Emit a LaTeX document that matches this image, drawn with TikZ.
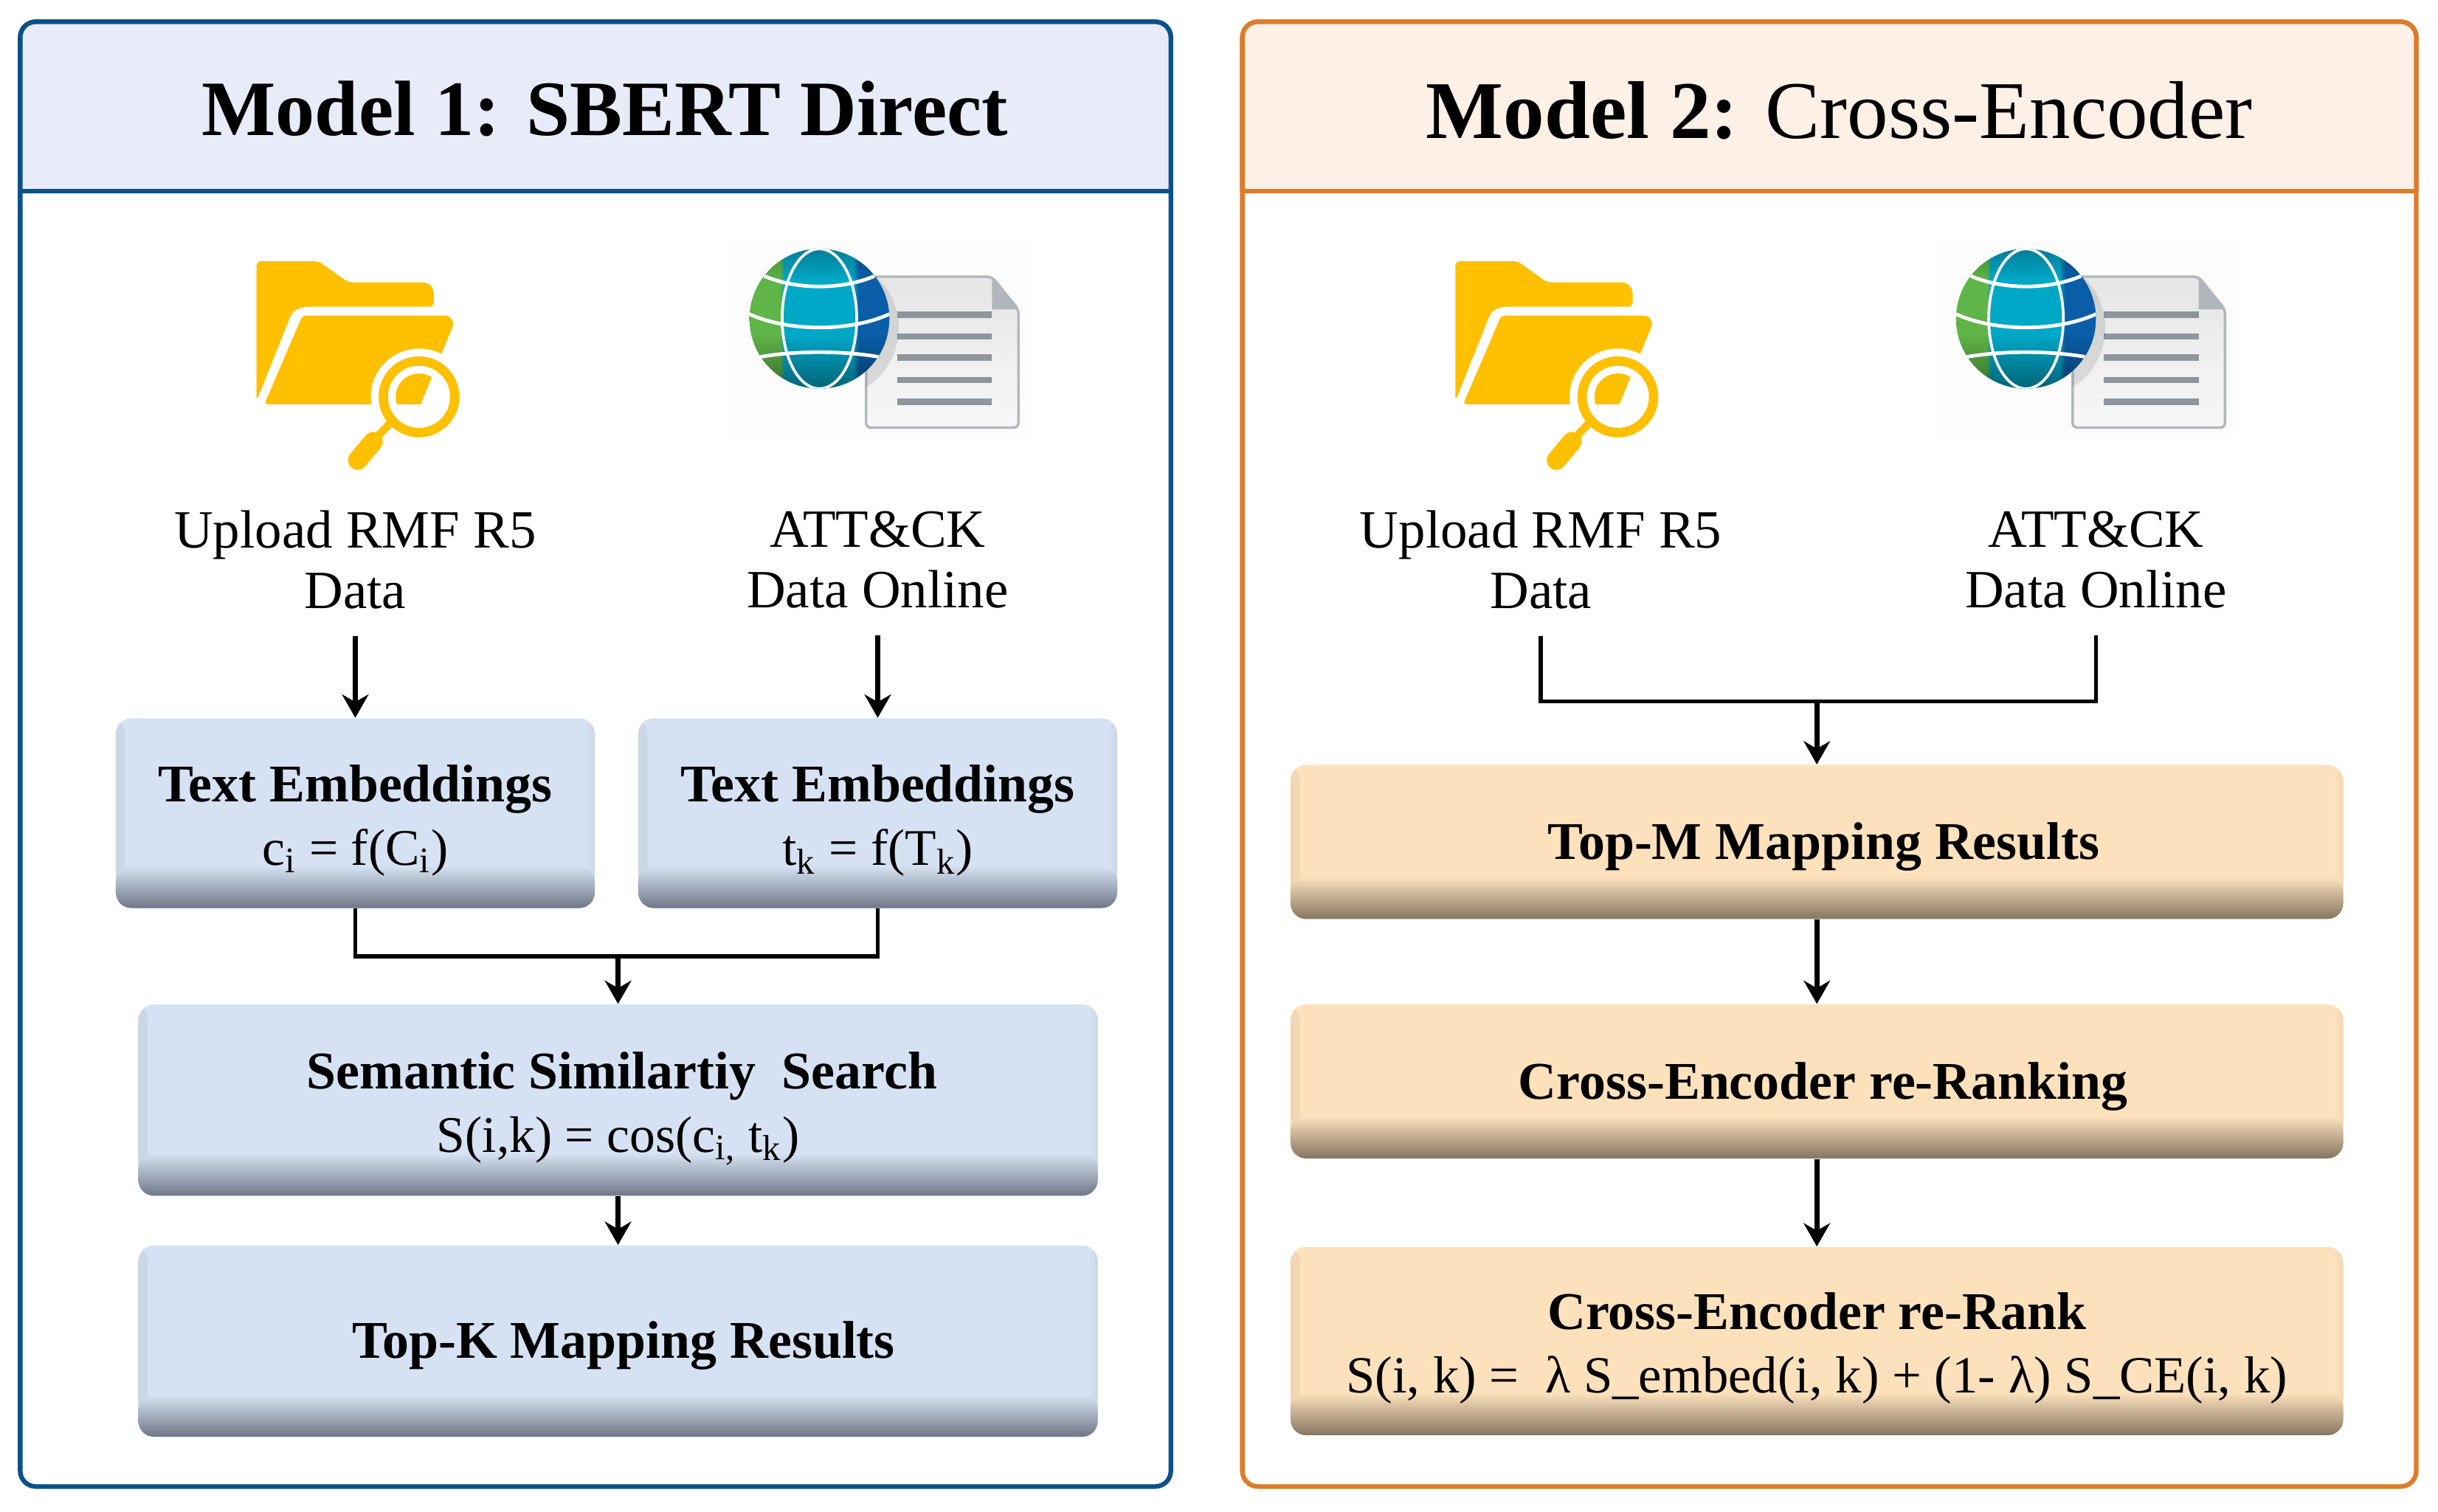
\documentclass[tikz,border=0pt]{standalone}
\usepackage{fontspec}
\usepackage{xcolor}
\usepackage{tikz}
\usetikzlibrary{arrows.meta,calc,fadings}
\setmainfont{Liberation Serif}

\definecolor{navyline}{HTML}{0B5189}
\definecolor{orangeline}{HTML}{DD7C2A}
\definecolor{headblue}{HTML}{E8ECF8}
\definecolor{headorange}{HTML}{FDF0E6}
\definecolor{faceblue}{HTML}{D6E2F3}
\definecolor{bandblue}{HTML}{6E7786}
\definecolor{sideblue}{HTML}{CBD6E6}
\definecolor{faceorange}{HTML}{FCE1BC}
\definecolor{bandorange}{HTML}{857561}
\definecolor{sideorange}{HTML}{F1D7B3}
\definecolor{foldergold}{HTML}{FFC000}
\definecolor{docgrey}{HTML}{B0B6BC}
\definecolor{docline}{HTML}{8E959C}
\definecolor{globegreen}{HTML}{5FB548}
\definecolor{globeteal}{HTML}{00A8C8}
\definecolor{globeblue}{HTML}{0A5EA8}

\pgfdeclarehorizontalshading{globeshade}{100bp}{color(0bp)=(globegreen); color(36bp)=(globegreen);
    color(37.5bp)=(globeteal); color(62bp)=(globeteal); color(64bp)=(globeblue); color(100bp)=(globeblue)}

\newcommand{\formsize}{\fontsize{18.8}{23.2}\selectfont}

\tikzset{
    softbox/.style n args={3}{
        rectangle, rounded corners=0.2cm, fill=#1, inner sep=0pt, align=center,
        font=\fontsize{19.4}{23.2}\selectfont,
        execute at begin node={\rule{0pt}{17pt}},
        path picture={
            \shade[left color=#3, right color=#1]
                (path picture bounding box.south west) rectangle
                ($(path picture bounding box.north west)+(0.12,0)$);
            \shade[left color=#1, right color=#3]
                ($(path picture bounding box.south east)+(-0.12,0)$) rectangle
                (path picture bounding box.north east);
            \shade[top color=#1, bottom color=#2]
                (path picture bounding box.south west) rectangle
                ($(path picture bounding box.south east)+(0,0.54)$);
        }
    },
    twolines/.style={text height=43pt, text depth=5pt},
    foldericon/.pic={
        \fill[foldergold, rounded corners=0.06cm] (0,0) -- (0.80,0) -- (1.18,-0.272) -- (2.2,-0.272)
            -- (2.28,-0.36) -- (2.28,-0.586) -- (0.59,-0.586) -- (0.46,-0.65) -- (0,-1.8) -- cycle;
        \fill[foldergold, rounded corners=0.04cm] (0.59,-0.70) -- (2.48,-0.70) -- (2.54,-0.8)
            -- (2.11,-1.84) -- (0.1,-1.84) -- cycle;
        \fill[white] (2.09,-1.744) circle (0.62);
        \begin{scope}
            \clip (2.09,-1.744) circle (0.30);
            \fill[foldergold] (0.59,-0.70) -- (2.48,-0.70) -- (2.54,-0.8)
                -- (2.11,-1.84) -- (0.1,-1.84) -- cycle;
        \end{scope}
        \draw[foldergold, line width=0.12cm] (2.09,-1.744) circle (0.46);
        \draw[foldergold, line width=0.1cm] (1.75,-2.05) -- (1.55,-2.26);
        \draw[foldergold, line width=0.25cm, line cap=round] (1.5,-2.32) -- (1.3,-2.56);
    },
    webicon/.pic={
        \fill[black!1] (-1.14,1.0) rectangle (2.66,-1.5);
        % page behind the globe
        \draw[docgrey, line width=0.9pt, top color=black!10, bottom color=black!3, rounded corners=0.06cm]
            (0.6,0.54) -- (2.22,0.54) -- (2.56,0.12) -- (2.56,-1.4) -- (0.6,-1.4) -- cycle;
        \fill[docgrey] (2.22,0.54) -- (2.56,0.12) -- (2.22,0.12) -- cycle;
        \foreach \liney in {0.05,-0.23,-0.50,-0.79,-1.07}
            \draw[docline, line width=0.08cm] (1.0,\liney) -- (2.22,\liney);
        \begin{scope}
            \clip (0.6,0.54) rectangle (2.56,-1.4);
            \fill[black, opacity=0.1] (0.12,-0.12) circle (0.9);
        \end{scope}
        % globe
        \shade[shading=globeshade] (0,0) circle (0.9);
        \begin{scope}
            \clip (0,0) circle (0.9);
            \fill[black, path fading=north, fill opacity=0.4] (-0.9,-0.9) rectangle (0.9,-0.2);
            \fill[black, path fading=south, fill opacity=0.25] (-0.9,0.9) rectangle (0.9,0.5);
            \draw[white, line width=1pt] (0,0) ellipse (0.48 and 0.9);
            \draw[white, line width=1.3pt] (-0.71,0.55) .. controls (-0.3,0.37) and (0.3,0.37) .. (0.71,0.55);
            \draw[white, line width=1.3pt] (-0.9,0.06) .. controls (-0.4,-0.17) and (0.4,-0.17) .. (0.9,0.06);
            \draw[white, line width=1.3pt] (-0.76,-0.49) .. controls (-0.3,-0.41) and (0.3,-0.41) .. (0.76,-0.49);
        \end{scope}
    }
}

\begin{document}
\begin{tikzpicture}[
        panelA/.style={draw=navyline, line width=1.7pt, rectangle, rounded corners=0.2cm, minimum width=14.8cm, minimum height=18.84cm},
        panelB/.style={draw=orangeline, line width=1.7pt, rectangle, rounded corners=0.2cm, minimum width=15.1cm, minimum height=18.84cm},
        heading/.style={font=\fontsize{28.7}{32}\selectfont, inner sep=0pt},
        source/.style={align=center, inner sep=0pt, font=\fontsize{19.7}{22.2}\selectfont},
        embedbox/.style={softbox={faceblue}{bandblue}{sideblue}, minimum width=6.16cm, minimum height=2.44cm},
        simbox/.style={softbox={faceblue}{bandblue}{sideblue}, minimum width=12.34cm, minimum height=2.46cm},
        shortbox/.style={softbox={faceorange}{bandorange}{sideorange}, minimum width=13.54cm, minimum height=1.98cm},
        tallbox/.style={softbox={faceorange}{bandorange}{sideorange}, minimum width=13.54cm, minimum height=2.42cm},
        link/.style={line width=1.5pt},
        arrow/.style={-{Stealth[length=0.3cm,width=0.34cm]}, line width=1.9pt}
    ]
    \useasboundingbox (0,0) rectangle (31.36,-19.44);

    % Model 1 frame and heading
    \node[panelA] (panelone) at (7.66,-9.7) {};
    \fill[headblue, rounded corners=0.2cm] (0.26,-2.46) -- (0.26,-0.28) -- (15.06,-0.28) -- (15.06,-2.46);
    \draw[navyline, line width=1.7pt, rounded corners=0.2cm] (0.26,-2.46) -- (0.26,-0.28) -- (15.06,-0.28) -- (15.06,-2.46);
    \draw[navyline, line width=1.7pt] (0.26,-2.46) -- (15.06,-2.46);
    \node[heading] (titleone) at (7.78,-1.4) {\textbf{Model 1: SBERT Direct}};

    % Model 2 frame and heading
    \node[panelB] (paneltwo) at (23.53,-9.7) {};
    \fill[headorange, rounded corners=0.2cm] (15.98,-2.46) -- (15.98,-0.28) -- (31.08,-0.28) -- (31.08,-2.46);
    \draw[orangeline, line width=1.7pt, rounded corners=0.2cm] (15.98,-2.46) -- (15.98,-0.28) -- (31.08,-0.28) -- (31.08,-2.46);
    \draw[orangeline, line width=1.7pt] (15.98,-2.46) -- (31.08,-2.46);
    \node[heading, font=\fontsize{30}{32}\selectfont] (titletwo) at (23.66,-1.42) {\textbf{Model 2:} Cross-Encoder};

    % Icons
    \pic (folderA) at (3.30,-3.36) {foldericon};
    \pic (folderB) at (18.72,-3.36) {foldericon};
    \pic (webA) at (10.54,-4.10) {webicon};
    \pic (webB) at (26.06,-4.10) {webicon};

    % Model 1 blocks
    \node[source] (uploadA) at (4.57,-7.2) {Upload RMF R5\\Data};
    \node[source] (attackA) at (11.29,-7.2) {ATT\&CK\\Data Online};
    \node[embedbox, twolines] (embedA) at (4.57,-10.46) {\textbf{Text Embeddings}\\\formsize c\textsubscript{i} = f(C\textsubscript{i})};
    \node[embedbox, twolines] (embedB) at (11.29,-10.46) {\textbf{Text Embeddings}\\\formsize t\textsubscript{k} = f(T\textsubscript{k})};
    \node[simbox, twolines] (semantic) at (7.95,-14.15) {\hspace*{0.1cm}\textbf{Semantic Similartiy\ \ Search}\\\formsize S(i,k) = cos(c\textsubscript{i,} t\textsubscript{k})};
    \node[simbox] (topk) at (7.95,-17.25) {\hspace*{0.14cm}\textbf{Top-K Mapping Results}};

    % Model 2 blocks
    \node[source] (uploadB) at (19.82,-7.2) {Upload RMF R5\\Data};
    \node[source] (attackB) at (26.96,-7.2) {ATT\&CK\\Data Online};
    \node[shortbox] (topm) at (23.37,-10.83) {\hspace*{0.18cm}\textbf{Top-M Mapping Results}};
    \node[shortbox] (rerankingbox) at (23.37,-13.91) {\hspace*{0.16cm}\textbf{Cross-Encoder re-Ranking}};
    \node[tallbox, twolines] (rerankbox) at (23.37,-17.25) {\textbf{Cross-Encoder re-Rank}\\\fontsize{19.1}{23.2}\selectfont S(i, k) =\ \ λ S\_embed(i, k) + (1- λ) S\_CE(i, k)};

    % Merge points
    \coordinate (mergeone) at (7.95,-12.3);
    \coordinate (mergetwo) at (23.37,-9.02);

    % Model 1 connectors
    \draw[arrow, shorten <=0.34cm] (uploadA.south) -- (embedA.north);
    \draw[arrow, shorten <=0.34cm] (attackA.south) -- (embedB.north);
    \draw[link] (embedA.south) |- (mergeone) -| (embedB.south);
    \draw[arrow] (mergeone) -- (semantic.north);
    \draw[arrow] (semantic.south) -- (topk.north);

    % Model 2 connectors
    \draw[link, shorten <=0.34cm] (uploadB.south) |- (mergetwo);
    \draw[link, shorten <=0.34cm] (attackB.south) |- (mergetwo);
    \draw[arrow] (mergetwo) -- (topm.north);
    \draw[arrow] (topm.south) -- (rerankingbox.north);
    \draw[arrow] (rerankingbox.south) -- (rerankbox.north);

\end{tikzpicture}
\end{document}
